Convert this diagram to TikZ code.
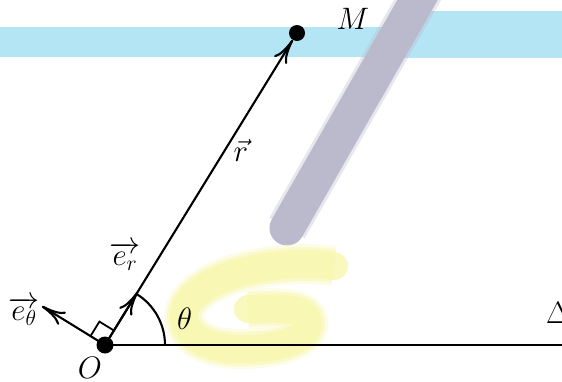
\RequirePackage{fix-cm}
\documentclass[tikz,border=0pt]{standalone}
\usetikzlibrary{arrows.meta}
\definecolor{bandblue}{RGB}{180,229,245}
\definecolor{pengray}{RGB}{186,186,204}
\definecolor{hlyellow}{RGB}{247,246,172}
\begin{document}
\begin{tikzpicture}[x=1pt,y=-1pt,
  axis/.style={line width=2.1pt},
  vecarrow/.style={line width=2.1pt,-{To[length=24pt,width=15pt]}},
  dot/.style={circle,fill=black,inner sep=0pt},
  lbl/.style={inner sep=0pt,font=\fontsize{31}{37}\selectfont},
  marker/.style={line cap=round,line join=round}]
\useasboundingbox (0,0) rectangle (562,381);
\clip (0,0) rectangle (562,381);
% highlighter strokes
\fill[bandblue] (0,27) rectangle (398,57);
\fill[bandblue] (396,11) rectangle (562,58);
\draw[marker,pengray,line width=35pt,
  preaction={draw,pengray,line width=41pt,draw opacity=0.35}]
  (429,-20) -- (287,228);
\draw[marker,hlyellow,line width=28pt,draw opacity=0.8,
  preaction={draw,hlyellow,line width=40pt,draw opacity=0.3},
  preaction={draw,hlyellow,line width=34pt,draw opacity=0.45}]
  (334,266) .. controls (290,260) and (220,268) .. (192,298)
  .. controls (172,320) and (190,349) .. (240,349)
  .. controls (290,349) and (314,334) .. (307,318)
  .. controls (301,307) and (275,308) .. (248,309);
% points
\node[dot,minimum size=17pt] (O) at (105,345) {};
\node[dot,minimum size=16pt] (M) at (297,33) {};
\coordinate (er) at (137.8,291.7);
\coordinate (et) at (42,306.2);
\coordinate (D) at (562,345);
% lines
\draw[axis] (O.center) -- (D);
\draw[axis] (165,345) arc[start angle=0,end angle=-58.4,radius=60];
\draw[line width=1.8pt] (113.9,330.5) -- (99.4,321.6) -- (90.5,336.1);
\draw[vecarrow] (O) -- (M);
\draw[vecarrow] (O.center) -- (er);
\draw[vecarrow] (O.center) -- (et);
% labels
\node[lbl] (Ml) at (353,19) {$M$};
\node[lbl] (rl) at (241,150) {$\vec{r}$};
\node[lbl] (erl) at (125,256) {$\overrightarrow{e_r}$};
\node[lbl] (etl) at (24,311) {$\overrightarrow{e_\theta}$};
\node[lbl] (Ol) at (90,368) {$O$};
\node[lbl] (thl) at (184.5,319) {$\theta$};
\node[lbl] (Dl) at (558,312.5) {$\Delta$};
\end{tikzpicture}
\end{document}
